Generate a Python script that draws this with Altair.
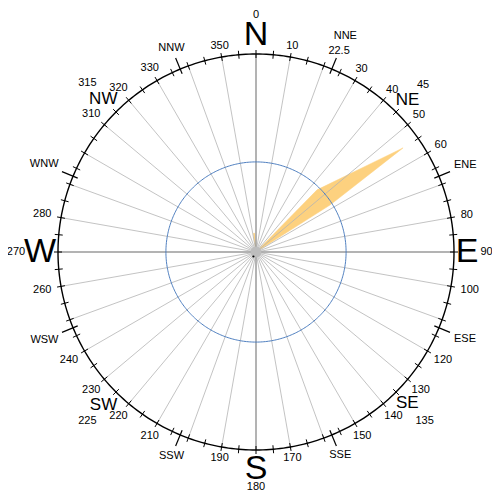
import altair as alt
import pandas as pd
import numpy as np

# ---------------- data ----------------
# wind-rose polygon (direction in degrees, value in % of outer ring)
wedge_dir = [0, 44.5, 54.7, 57.6, 0]
wedge_val = [0, 44.0, 91.0, 44.5, 0]
blip_dir = [0, 352, 356, 0]
blip_val = [0, 9.5, 9.5, 0]

OUTER = 100          # outer ring value
INNER = 45.5         # blue reference ring value

num_angles = [10, 30, 40, 50, 60, 80, 100, 120, 130, 140, 150, 170, 190,
              210, 220, 230, 240, 260, 280, 310, 320, 330, 350]
extra_num_angles = [22.5]
extra_num_texts = ["22.5"]
minor_names = ["NNE", "ENE", "ESE", "SSE", "SSW", "WSW", "WNW", "NNW"]
minor_angles = [22.5, 67.5, 112.5, 157.5, 202.5, 247.5, 292.5, 337.5]
inter_names = ["NE", "SE", "SW", "NW"]
inter_angles = [45, 135, 225, 315]
inter_nums = ["45", "135", "225", "315"]
card_names = ["N", "E", "S", "W"]
card_angles = [0, 90, 180, 270]
card_nums = ["0", "90", "180", "270"]

# ---------------- layout helpers ----------------
K = 1.98                      # px per unit
CX, CY = 256, 252             # centre on the page
xdom = [-(CX - 8) / K, (492 - CX) / K]
ydom = [-(492 - CY) / K, (CY - 8) / K]
XS = alt.Scale(domain=xdom, nice=False, zero=False)
YS = alt.Scale(domain=ydom, nice=False, zero=False)

CW = {"0": .556, "1": .556, "2": .556, "3": .556, "4": .556, "5": .556,
      "6": .556, "7": .556, "8": .556, "9": .556, ".": .278,
      "N": .722, "E": .667, "S": .667, "W": .944}


def hw(t, fs):
    return sum(CW.get(c, .6) for c in t) * fs / 2


def pol(a, r):
    t = np.radians(a)
    return r * np.sin(t), r * np.cos(t)


def xy(df, a, r, xn="x", yn="y"):
    x, y = pol(np.asarray(df[a], float), np.asarray(df[r], float))
    df[xn] = x
    df[yn] = y
    return df


# ---------------- tables ----------------
poly = pd.DataFrame({
    "dir": wedge_dir + blip_dir,
    "val": wedge_val + blip_val,
    "g": ["a"] * len(wedge_dir) + ["b"] * len(blip_dir),
})
poly["i"] = range(len(poly))
poly = xy(poly, "dir", "val")

spk = pd.DataFrame({"a": [a for a in range(0, 360, 10) if a % 90]})
spk["r"] = OUTER
spk["x0"] = 0.0
spk["y0"] = 0.0
spk = xy(spk, "a", "r")
card = pd.DataFrame({"a": card_angles})
card["r"] = OUTER
card["x0"] = 0.0
card["y0"] = 0.0
card = xy(card, "a", "r")

ring_a = list(range(0, 361, 1))
rings = pd.DataFrame({"a": ring_a * 2,
                      "r": [OUTER] * len(ring_a) + [INNER] * len(ring_a),
                      "ring": ["outer"] * len(ring_a) + ["inner"] * len(ring_a)})
rings = xy(rings, "a", "r")

tk = pd.DataFrame({"a": list(range(0, 360, 5))})
tk["r1"] = OUTER - 4 / K
tk["r2"] = OUTER + 4 / K
tk = xy(tk, "a", "r1", "x1", "y1")
tk = xy(tk, "a", "r2", "x2", "y2")
ltk = pd.DataFrame({"a": minor_angles})
ltk["r1"] = OUTER - 5 / K
ltk["r2"] = OUTER + 12 / K
ltk = xy(ltk, "a", "r1", "x1", "y1")
ltk = xy(ltk, "a", "r2", "x2", "y2")

rows = []


def add(texts, angles, fs, base, cosk=0.0, bump=None, hwmax=None):
    for t, a in zip(texts, angles):
        s = abs(np.sin(np.radians(a)))
        c = abs(np.cos(np.radians(a)))
        h = hw(t, fs)
        if hwmax is not None:
            h = min(h, hwmax)
        rpx = base + h * s + cosk * c
        if bump and a in bump:
            rpx += 13
        x, y = pol(a, rpx / K)
        rows.append({"t": t, "x": x, "y": y, "fs": fs})


add([str(a) for a in num_angles], num_angles, 11, 208)
add(extra_num_texts, extra_num_angles, 11, 213)
add(minor_names, minor_angles, 11, 216, bump=set(extra_num_angles))
add(inter_names, inter_angles, 17, 206)
add(inter_nums, inter_angles, 11, 232)
add(card_names, card_angles, 34, 206, cosk=11, hwmax=8)
# cardinal degree labels sit just outside the big letters (kept inside the frame)
add(card_nums, card_angles, 11, 237, cosk=0, hwmax=0)
lab = pd.DataFrame(rows)
lab.loc[lab.t == "E", ["x"]] = 211 / K
lab.loc[lab.t == "W", ["x"]] = -216 / K
lab.loc[lab.t == "90", ["x"]] = 230.5 / K
lab.loc[lab.t == "180", ["y"]] = -235 / K
lab.loc[lab.t == "270", ["x"]] = -240 / K

centre = pd.DataFrame({"x": [0.0], "y": [0.0]})
dot = pd.DataFrame({"x": [-2.6 / K], "y": [-4.5 / K]})

# ---------------- layers ----------------
X = lambda f: alt.X(f, type="quantitative", scale=XS, axis=None)
Y = lambda f: alt.Y(f, type="quantitative", scale=YS, axis=None)

wedge = alt.Chart(poly).mark_line(
    fill="#FDD17F", stroke="#FDD17F", strokeWidth=0.5, interpolate="linear-closed"
).encode(x=X("x"), y=Y("y"), detail="g:N", order="i:Q")

spokes = alt.Chart(spk).mark_rule(color="#b4b4b4", strokeWidth=0.8).encode(
    x=X("x0"), y=Y("y0"), x2="x", y2="y")
cards = alt.Chart(card).mark_rule(color="#9a9a9a", strokeWidth=1.5).encode(
    x=X("x0"), y=Y("y0"), x2="x", y2="y")

inner = alt.Chart(rings[rings.ring == "inner"]).mark_line(
    color="#4f7fc0", strokeWidth=1).encode(x=X("x"), y=Y("y"), order="a:Q")
outer = alt.Chart(rings[rings.ring == "outer"]).mark_line(
    color="#000000", strokeWidth=1.4).encode(x=X("x"), y=Y("y"), order="a:Q")

ticks = alt.Chart(tk).mark_rule(color="#000", strokeWidth=1).encode(
    x=X("x1"), y=Y("y1"), x2="x2", y2="y2")
lticks = alt.Chart(ltk).mark_rule(color="#000", strokeWidth=1.2).encode(
    x=X("x1"), y=Y("y1"), x2="x2", y2="y2")

hub = alt.Chart(centre).mark_point(filled=True, color="#bdbdbd", size=120, opacity=1).encode(
    x=X("x"), y=Y("y"))
hubdot = alt.Chart(dot).mark_point(filled=True, color="#000", size=5, opacity=1).encode(
    x=X("x"), y=Y("y"))

texts = alt.Chart(lab).mark_text(
    font="Liberation Sans", align="center", baseline="middle", color="#000"
).encode(x=X("x"), y=Y("y"), text="t:N", size=alt.Size("fs:Q", scale=None))

chart = alt.layer(
    wedge, spokes, cards, inner, outer, ticks, lticks, hub, hubdot, texts
).properties(
    width=484, height=484, padding=0,
    autosize=alt.AutoSizeParams(type="none")
).configure_view(stroke=None)

chart.save("out.html", embed_options={"renderer": "svg", "actions": False})
